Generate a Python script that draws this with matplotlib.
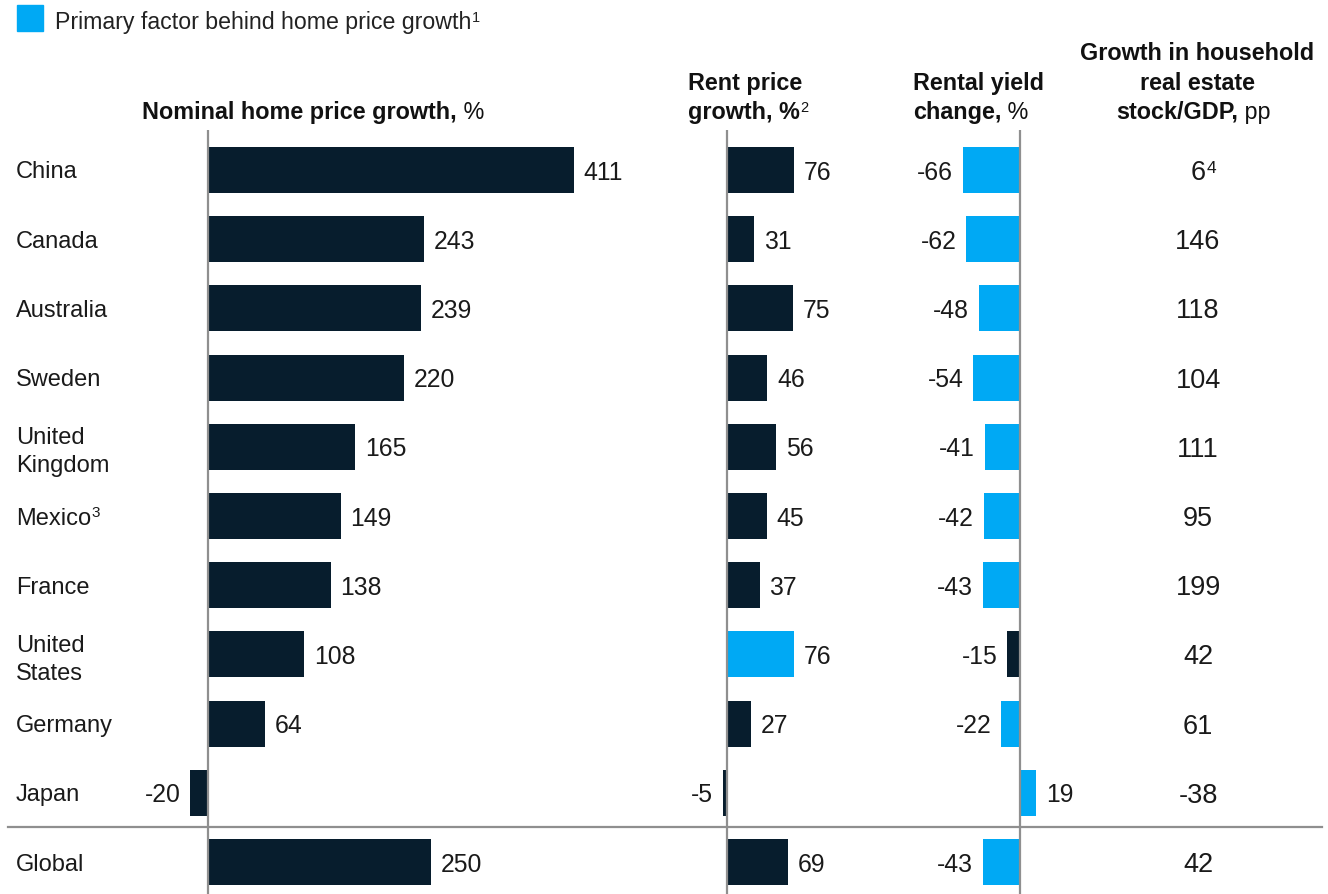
import matplotlib.pyplot as plt
import matplotlib.patches as mpatches

# Data
countries = ['China', 'Canada', 'Australia', 'Sweden', 'United\nKingdom', 'Mexico',
             'France', 'United\nStates', 'Germany', 'Japan', 'Global']
country_notes = ['', '', '', '', '', '3', '', '', '', '', '']
home_price_growth = [411, 243, 239, 220, 165, 149, 138, 108, 64, -20, 250]
rent_price_growth = [76, 31, 75, 46, 56, 45, 37, 76, 27, -5, 69]
rental_yield_change = [-66, -62, -48, -54, -41, -42, -43, -15, -22, 19, -43]
stock_gdp_growth = [6, 146, 118, 104, 111, 95, 199, 42, 61, -38, 42]
stock_gdp_notes = ['4', '', '', '', '', '', '', '', '', '', '']
# which factor is flagged as the primary driver of home price growth
primary_factor = ['yield'] * 7 + ['rent'] + ['yield'] * 3

NAVY = '#071d2d'
BLUE = '#00a9f4'
GRAY = '#8f8f8f'
TEXT = '#1a1a1a'

W, H = 1328, 894
TOP, BOTTOM = 130, 894        # vertical extent of the chart area, px
ROW0, ROW_STEP = 170, 69.2    # centre of first row and row pitch, px

plt.rcParams['font.family'] = ['Liberation Sans', 'DejaVu Sans']
plt.rcParams['text.color'] = TEXT

fig = plt.figure(figsize=(W / 100, H / 100), dpi=100)

ylim = ((BOTTOM - ROW0) / ROW_STEP, (TOP - ROW0) / ROW_STEP)
rows = list(range(len(countries)))


def superscript(text, anchor, size, color=TEXT, rise=6.3):
    """Small raised note placed right after another text artist."""
    return plt.annotate(text, xy=(1, 0), xycoords=anchor, xytext=(0.5, rise),
                        textcoords='offset points', ha='left', va='bottom',
                        fontsize=size, color=color)


def add_panel(left, right, zero, scale):
    """Axes spanning pixels left..right with the value 0 at pixel `zero`."""
    ax = fig.add_axes([left / W, 1 - BOTTOM / H, (right - left) / W, (BOTTOM - TOP) / H])
    ax.set_xlim((left - zero) / scale, (right - zero) / scale)
    ax.set_ylim(*ylim)
    ax.axis('off')
    ax.patch.set_alpha(0)
    return ax


# background axes in pixel-x units for labels and separator
bg = fig.add_axes([0, 1 - BOTTOM / H, 1, (BOTTOM - TOP) / H])
bg.set_xlim(0, W)
bg.set_ylim(*ylim)
bg.axis('off')
bg.axhline(9.5, xmin=8 / W, xmax=1322 / W, color=GRAY, lw=1.6, zorder=1)

LABEL_FS = 17
VALUE_FS = 17.8
for i, (name, note) in enumerate(zip(countries, country_notes)):
    t = bg.text(16, i, name, ha='left', va='center_baseline', fontsize=LABEL_FS,
                linespacing=1.36)
    if note:
        superscript(note, t, 11, rise=6.5)

for i, (v, note) in enumerate(zip(stock_gdp_growth, stock_gdp_notes)):
    t = bg.text(1198, i, str(v), ha='center', va='center_baseline', fontsize=19.5)
    if note:
        superscript(note, t, 12.5, rise=7.5)

panels = [
    (add_panel(110, 660, 208, 0.8905), home_price_growth, None),
    (add_panel(660, 880, 727, 0.88), rent_price_growth, 'rent'),
    (add_panel(880, 1100, 1020, 0.864), rental_yield_change, 'yield'),
]

for ax, values, key in panels:
    colors = [BLUE if key is not None and p == key else NAVY for p in primary_factor]
    ax.barh(rows, values, height=0.665, color=colors, zorder=2)
    ax.axvline(0, color=GRAY, lw=1.6, zorder=3)
    for i, v in zip(rows, values):
        pos = v >= 0
        ax.annotate(str(v), xy=(v, i), xytext=(7 if pos else -7, 0),
                    textcoords='offset points', ha='left' if pos else 'right',
                    va='center_baseline', fontsize=VALUE_FS)

# legend
fig.patches.append(mpatches.Rectangle((17 / W, 1 - 31 / H), 26 / W, 26 / H,
                                      transform=fig.transFigure, color=BLUE))
lt = fig.text(55 / W, 1 - 29 / H, 'Primary factor behind home price growth',
              ha='left', va='baseline', fontsize=16.7, color='#222222')
superscript('1', lt, 10.5, color='#222222')

HEAD_FS = 16.8
HEAD_COLOR = '#111111'


def header(x, y, bold, regular='', sup='', ha='left'):
    t = fig.text(x / W, 1 - y / H, bold, ha=ha, va='baseline', fontsize=HEAD_FS,
                 fontweight='bold', color=HEAD_COLOR)
    last = t
    if regular:
        last = plt.annotate(regular, xy=(1, 0), xycoords=t, ha='left', va='bottom',
                            fontsize=HEAD_FS, color=HEAD_COLOR)
    if sup:
        superscript(sup, last, 10.5, color=HEAD_COLOR)
    return t


header(142, 119, 'Nominal home price growth,', ' %')
header(688, 90, 'Rent price')
header(688, 119, 'growth, %', sup='2')
header(913, 90, 'Rental yield')
header(913, 119, 'change,', ' %')
header(1197, 60, 'Growth in household', ha='center')
header(1197, 90, 'real estate', ha='center')
header(1116, 119, 'stock/GDP,', ' pp')

fig.savefig('out.png', dpi=100)
